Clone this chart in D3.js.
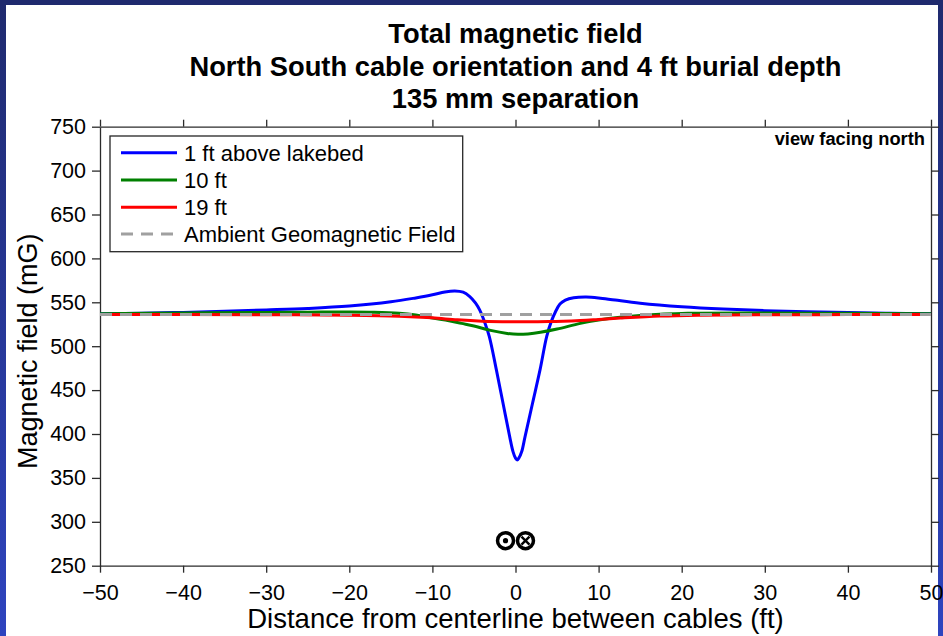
<!DOCTYPE html>
<html>
<head>
<meta charset="utf-8">
<script src="https://cdn.jsdelivr.net/npm/d3@7"></script>
<style>
  html, body { margin: 0; padding: 0; background: #fff; }
  svg { display: block; font-family: "Liberation Sans", Arial, Helvetica, sans-serif; }
</style>
</head>
<body>
<svg id="chart" width="943" height="636"></svg>
<script>
// ---- Data ----
const titleLines = ["Total magnetic field", "North South cable orientation and 4 ft burial depth", "135 mm separation"];
const xLabel = "Distance from centerline between cables (ft)";
const yLabel = "Magnetic field (mG)";
const annotation = "view facing north";
const xTicks = [-50, -40, -30, -20, -10, 0, 10, 20, 30, 40, 50];
const yTicks = [250, 300, 350, 400, 450, 500, 550, 600, 650, 700, 750];

const seriesNames = ["1 ft above lakebed", "10 ft", "19 ft", "Ambient Geomagnetic Field"];

const blueX = [-50, -45, -40, -35, -30, -25, -20, -15, -12, -10, -8.5, -7.3, -6.3, -5.5, -4.8, -4.3, -3.7, -3.15, -2.3, -1.5, -0.7, -0.3, 0.0, 0.2, 0.4, 0.75, 1.15, 2.05, 2.95, 3.75, 4.3, 4.8, 5.35, 6, 7, 8.5, 10, 12, 15, 20, 25, 30, 35, 40, 45, 50];
const blueY = [537, 537.6, 538.5, 539.8, 541.3, 543, 545.7, 550.5, 555, 558.5, 561.8, 563, 561.5, 556.5, 549, 541, 527, 511, 473, 435, 397, 380, 372.5, 370.5, 372.5, 380, 397, 435, 473, 511, 528, 539, 548, 552.5, 555.2, 556, 555, 552.5, 549, 545, 542.3, 540.5, 539.2, 538.3, 537.6, 537];

const greenX = [-50, -40, -30, -25, -20, -17, -14, -12, -10, -8, -6.5, -5, -3, -1, 0.3, 1.5, 3, 5, 7.8, 10, 12.6, 15, 17.4, 20, 22, 30, 40, 50];
const greenY = [537, 537.8, 538.5, 538.8, 539, 538.7, 537.5, 535.5, 532, 529, 526, 523, 518, 514.5, 513.5, 514, 515.8, 519.5, 526, 529.8, 533, 535, 536.5, 537.3, 537.6, 537.8, 537.5, 537];

const redX = [-50, -40, -30, -20, -14, -10, -7, -4, 0, 4, 7.8, 10, 12.6, 17.4, 22, 30, 40, 50];
const redY = [536, 536, 535.8, 535.3, 534.2, 532.3, 530, 528.5, 527.8, 528, 529.3, 530.5, 532, 534.3, 535.3, 535.8, 536, 536];

const ambientX = [-50, 50];
const ambientY = [536, 536];

const cableX = [-1.2, 1.2];
const cableY = [278.5, 278.5];

// ---- Layout ----
const svg = d3.select("#chart");
const W = 943, H = 636;
const plot = { left: 100, right: 931, top: 126.7, bottom: 565.7 };

const x = d3.scaleLinear().domain([-50, 50]).range([plot.left, plot.right]);
const y = d3.scaleLinear().domain([250, 750]).range([plot.bottom, plot.top]);

// Frame
const defs = svg.append("defs");
const grad = defs.append("linearGradient").attr("id", "sideGrad").attr("x1", 0).attr("y1", 0).attr("x2", 0).attr("y2", 1);
grad.append("stop").attr("offset", "0%").attr("stop-color", "#1f2a6e");
grad.append("stop").attr("offset", "100%").attr("stop-color", "#2e44bf");
svg.append("rect").attr("x", 0).attr("y", 0).attr("width", W).attr("height", H).attr("fill", "url(#sideGrad)");
svg.append("rect").attr("x", 0).attr("y", 0).attr("width", W).attr("height", 6).attr("fill", "#1f2a6e");
svg.append("rect").attr("x", 6).attr("y", 5).attr("width", 932).attr("height", H - 5).attr("fill", "#ffffff");

// Title
const title = svg.append("text").attr("text-anchor", "middle").attr("font-weight", "bold")
  .attr("font-size", 27.3).attr("fill", "#000");
titleLines.forEach((t, i) => {
  title.append("tspan").attr("x", (plot.left + plot.right) / 2).attr("y", 43 + i * 32.5).text(t);
});

// Axes
const axisColor = "#2b2b2b";
function styleAxis(g, fs) {
  g.selectAll("path").attr("stroke", axisColor).attr("stroke-width", 1.3);
  g.selectAll("line").attr("stroke", axisColor).attr("stroke-width", 1.3);
  g.selectAll("text").attr("fill", "#000").attr("font-size", fs).attr("font-family", "Liberation Sans, Arial, sans-serif");
}
const gBottom = svg.append("g").attr("transform", `translate(0,${plot.bottom})`)
  .call(d3.axisBottom(x).tickValues(xTicks).tickSize(7).tickSizeOuter(0).tickPadding(12));
styleAxis(gBottom, 21.5);
const gTop = svg.append("g").attr("transform", `translate(0,${plot.top})`)
  .call(d3.axisTop(x).tickValues(xTicks).tickSize(7).tickSizeOuter(0).tickFormat(""));
styleAxis(gTop, 0);
const gLeft = svg.append("g").attr("transform", `translate(${plot.left},0)`)
  .call(d3.axisLeft(y).tickValues(yTicks).tickSize(8).tickSizeOuter(0).tickPadding(6));
styleAxis(gLeft, 21.5);
const gRight = svg.append("g").attr("transform", `translate(${plot.right},0)`)
  .call(d3.axisRight(y).tickValues(yTicks).tickSize(8).tickSizeOuter(0).tickFormat(""));
styleAxis(gRight, 0);

// Axis labels
svg.append("text").attr("x", (plot.left + plot.right) / 2).attr("y", 628)
  .attr("text-anchor", "middle").attr("font-size", 27.5).attr("fill", "#000").text(xLabel);
svg.append("text").attr("transform", `translate(37,${(plot.top + plot.bottom) / 2 + 5}) rotate(-90)`)
  .attr("text-anchor", "middle").attr("font-size", 27).attr("fill", "#000").text(yLabel);

// Lines
const line = d3.line().x(d => x(d[0])).y(d => y(d[1])).curve(d3.curveCatmullRom.alpha(0.5));
const series = [
  { xs: blueX, ys: blueY, color: "#0000ff", dash: null },
  { xs: greenX, ys: greenY, color: "#008000", dash: null },
  { xs: redX, ys: redY, color: "#ff0000", dash: null },
  { xs: ambientX, ys: ambientY, color: "#a0a0a0", dash: "12,8" }
];
series.forEach(s => {
  const pts = s.xs.map((v, i) => [v, s.ys[i]]);
  svg.append("path").datum(pts).attr("d", line)
    .attr("fill", "none").attr("stroke", s.color).attr("stroke-width", 3)
    .attr("stroke-dasharray", s.dash).attr("stroke-linejoin", "round");
});

// Cable symbols
const cx0 = x(cableX[0]), cy0 = y(cableY[0]);
const cx1 = x(cableX[1]), cy1 = y(cableY[1]);
svg.append("circle").attr("cx", cx0).attr("cy", cy0).attr("r", 8).attr("fill", "#fff").attr("stroke", "#000").attr("stroke-width", 3.5);
svg.append("circle").attr("cx", cx0).attr("cy", cy0).attr("r", 2.6).attr("fill", "#000");
svg.append("circle").attr("cx", cx1).attr("cy", cy1).attr("r", 8).attr("fill", "#fff").attr("stroke", "#000").attr("stroke-width", 3.5);
[[-1, -1, 1, 1], [-1, 1, 1, -1]].forEach(d => {
  svg.append("line").attr("x1", cx1 + d[0] * 4).attr("y1", cy1 + d[1] * 4)
    .attr("x2", cx1 + d[2] * 4).attr("y2", cy1 + d[3] * 4)
    .attr("stroke", "#000").attr("stroke-width", 2.4);
});

// Annotation
svg.append("text").attr("x", 925).attr("y", 145).attr("text-anchor", "end")
  .attr("font-weight", "bold").attr("font-size", 18.3).attr("fill", "#000").text(annotation);

// Legend
const lg = svg.append("g");
lg.append("rect").attr("x", 110).attr("y", 136).attr("width", 352.7).attr("height", 115.7)
  .attr("fill", "#fff").attr("stroke", "#262626").attr("stroke-width", 1.3);
const legendRows = [152.7, 180, 207.3, 234];
series.forEach((s, i) => {
  lg.append("line").attr("x1", 121).attr("x2", 177).attr("y1", legendRows[i]).attr("y2", legendRows[i])
    .attr("stroke", s.color).attr("stroke-width", 3).attr("stroke-dasharray", s.dash);
  lg.append("text").attr("x", 184).attr("y", legendRows[i]).attr("dy", "0.36em")
    .attr("font-size", 22).attr("fill", "#000").text(seriesNames[i]);
});
</script>
</body>
</html>
